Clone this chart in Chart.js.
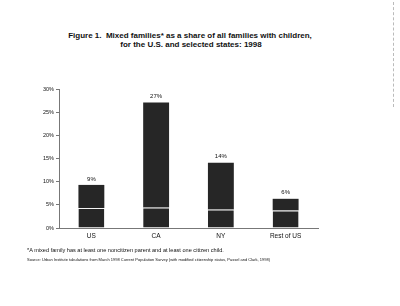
<!DOCTYPE html>
<html>
<head>
<meta charset="utf-8">
<script src="https://cdn.jsdelivr.net/npm/chart.js@4/dist/chart.umd.min.js"></script>
<style>
  body { margin: 0; background: #fff; }
  #wrap { position: relative; width: 400px; height: 306px; overflow: hidden; font-family: "Liberation Sans", Arial, sans-serif; color: #111; }
  #chart { position: absolute; left: 0; top: 0; }
  .title { position: absolute; left: 0; width: 380px; text-align: center; font-weight: bold; font-size: 8px; white-space: nowrap; }
  .note { position: absolute; left: 27px; white-space: nowrap; }
  .edge { position: absolute; left: 393px; top: 2px; height: 105px; border-left: 1px dashed #bbb; }
</style>
</head>
<body>
<div id="wrap">
  <div class="title" style="top:31px; left:0">Figure 1.&nbsp; Mixed families* as a share of all families with children,</div>
  <div class="title" style="top:40px; left:1px">for the U.S. and selected states: 1998</div>
  <canvas id="chart" width="400" height="306"></canvas>
  <div class="note" style="top:247px; font-size:5.6px">*A mixed family has at least one noncitizen parent and at least one citizen child.</div>
  <div class="note" style="top:257px; font-size:4px">Source: Urban Institute tabulations from March 1998 Current Population Survey (with modified citizenship status, Passel and Clark, 1998)</div>
  <div class="edge"></div>
</div>
<script>
// values (percent)
const categories = ['US', 'CA', 'NY', 'Rest of US'];
const mixedShare = [9.3, 27.1, 14.1, 6.3];
const lowerBand = [4.3, 4.4, 4.0, 3.8];   // white divider line inside each bar
const yTicks = [0, 5, 10, 15, 20, 25, 30];

const upperBand = mixedShare.map((v, i) => v - lowerBand[i]);
const barColor = '#262626';

// labels above each bar
const valueLabels = {
  id: 'valueLabels',
  afterDatasetsDraw(chart) {
    const ctx = chart.ctx;
    const meta = chart.getDatasetMeta(1);
    ctx.save();
    ctx.font = '6px "Liberation Sans", Arial, sans-serif';
    ctx.fillStyle = '#111';
    ctx.textAlign = 'center';
    ctx.textBaseline = 'bottom';
    meta.data.forEach((bar, i) => {
      ctx.fillText(Math.round(mixedShare[i]) + '%', bar.x, bar.y - 3);
    });
    ctx.restore();
  }
};

new Chart(document.getElementById('chart'), {
  type: 'bar',
  data: {
    labels: categories,
    datasets: [
      {
        data: lowerBand,
        backgroundColor: barColor,
        borderColor: '#f4f4f4',
        borderWidth: { top: 1, left: 0, right: 0, bottom: 0 },
        borderSkipped: false,
        barPercentage: 0.4,
        categoryPercentage: 1
      },
      {
        data: upperBand,
        backgroundColor: barColor,
        borderWidth: 0,
        barPercentage: 0.4,
        categoryPercentage: 1
      }
    ]
  },
  options: {
    responsive: false,
    animation: false,
    layout: { padding: { top: 89, right: 82, bottom: 64, left: 0 } },
    plugins: {
      legend: { display: false },
      tooltip: { enabled: false }
    },
    scales: {
      x: {
        stacked: true,
        afterFit: s => { s.height = 14; },
        border: { color: '#777', width: 1 },
        grid: { drawOnChartArea: false, drawTicks: false },
        ticks: { color: '#111', padding: 4, font: { size: 6.5, family: '"Liberation Sans", Arial, sans-serif' } }
      },
      y: {
        stacked: true,
        min: 0,
        max: 30,
        afterFit: s => { s.width = 59; },
        afterBuildTicks: s => { s.ticks = yTicks.map(v => ({ value: v })); },
        border: { color: '#777', width: 1 },
        grid: { drawOnChartArea: false, drawTicks: true, tickLength: 3, color: '#777' },
        ticks: {
          color: '#111',
          padding: 2,
          font: { size: 5.5, family: '"Liberation Sans", Arial, sans-serif' },
          callback: v => v + '%'
        }
      }
    }
  },
  plugins: [valueLabels]
});
</script>
</body>
</html>
